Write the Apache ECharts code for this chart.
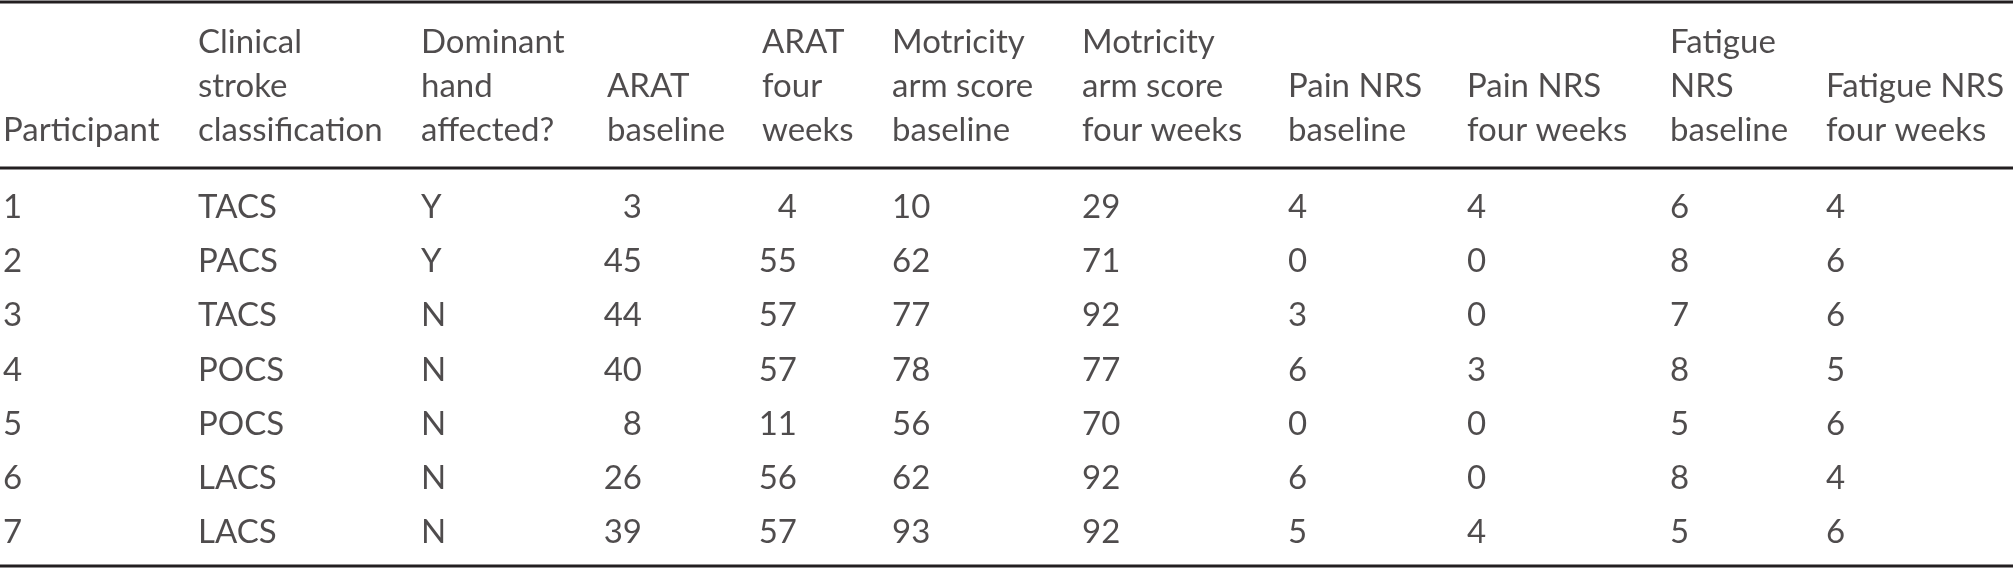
<!DOCTYPE html>
<html lang="en">
<head>
    <meta charset="UTF-8">
    <title>Participant table</title>
    <style>
        body {
            margin: 0;
            background: #fff;
        }
        #chart {
            width: 2015px;
            height: 570px;
        }
    </style>
</head>
<body>
    <div id="chart"></div>
    <script src="https://cdn.jsdelivr.net/npm/echarts@6/dist/echarts.min.js"></script>
    <script>
        // table contents
        const participants = ['1', '2', '3', '4', '5', '6', '7'];
        const classification = ['TACS', 'PACS', 'TACS', 'POCS', 'POCS', 'LACS', 'LACS'];
        const dominantAffected = ['Y', 'Y', 'N', 'N', 'N', 'N', 'N'];
        const aratBaseline = [3, 45, 44, 40, 8, 26, 39];
        const aratFourWeeks = [4, 55, 57, 57, 11, 56, 57];
        const motricityBaseline = [10, 62, 77, 78, 56, 62, 93];
        const motricityFourWeeks = [29, 71, 92, 77, 70, 92, 92];
        const painBaseline = [4, 0, 3, 6, 0, 6, 5];
        const painFourWeeks = [4, 0, 0, 3, 0, 0, 4];
        const fatigueBaseline = [6, 8, 7, 8, 5, 8, 5];
        const fatigueFourWeeks = [4, 6, 6, 5, 6, 4, 6];

        const headers = [
            ['Participant'],
            ['Clinical', 'stroke', 'classification'],
            ['Dominant', 'hand', 'affected?'],
            ['ARAT', 'baseline'],
            ['ARAT', 'four', 'weeks'],
            ['Motricity', 'arm score', 'baseline'],
            ['Motricity', 'arm score', 'four weeks'],
            ['Pain NRS', 'baseline'],
            ['Pain NRS', 'four weeks'],
            ['Fatigue', 'NRS', 'baseline'],
            ['Fatigue NRS', 'four weeks'],
        ];
        const columns = [
            participants, classification, dominantAffected,
            aratBaseline, aratFourWeeks, motricityBaseline, motricityFourWeeks,
            painBaseline, painFourWeeks, fatigueBaseline, fatigueFourWeeks,
        ];

        // layout: left edge of each column, and right edge for the right aligned ones
        const colLeft = [3, 198, 421, 607, 762, 892, 1082, 1288, 1467, 1670, 1826];
        const rightAligned = { 3: 642, 4: 797 };

        const FONT = 'Lato';
        const INK = '#231f20';
        const SIZE = 33;

        const headerRows = ['l1', 'l2', 'l3'];

        const baseLabel = {
            show: true,
            fontFamily: FONT,
            fontSize: SIZE,
            color: INK,
            distance: 0,
            formatter: '{b}',
        };

        const series = [];

        // header text, bottom aligned on three lines
        series.push({
            type: 'scatter',
            xAxisIndex: 0,
            yAxisIndex: 0,
            symbolSize: 0,
            silent: true,
            label: Object.assign({}, baseLabel, { position: 'right' }),
            data: headers.flatMap((lines, c) => lines.map((t, k) => ({
                name: t,
                value: [colLeft[c], 3 - lines.length + k],
            }))),
        });

        // body cells
        columns.forEach((vals, c) => {
            const right = rightAligned[c];
            series.push({
                type: 'scatter',
                xAxisIndex: 1,
                yAxisIndex: 1,
                symbolSize: 0,
                silent: true,
                label: Object.assign({}, baseLabel, { position: right ? 'left' : 'right' }),
                data: vals.map((v, i) => ({
                    name: String(v),
                    value: [right || colLeft[c], i],
                })),
            });
        });

        const rule = y => ({
            type: 'line',
            shape: { x1: 0, y1: y, x2: 2013, y2: y },
            style: { stroke: INK, lineWidth: 3 },
        });

        const chart = echarts.init(document.getElementById('chart'));
        chart.setOption({
            animation: false,
            grid: [
                { left: 0, top: 20, width: 2015, height: 133 },
                { left: 0, top: 180, width: 2015, height: 380 },
            ],
            xAxis: [
                { type: 'value', gridIndex: 0, min: 0, max: 2015, show: false },
                { type: 'value', gridIndex: 1, min: 0, max: 2015, show: false },
            ],
            yAxis: [
                { type: 'category', gridIndex: 0, data: headerRows, inverse: true, show: false },
                { type: 'category', gridIndex: 1, data: participants, inverse: true, show: false },
            ],
            graphic: [rule(2), rule(168), rule(566)],
            series: series,
        });
    </script>
</body>
</html>
